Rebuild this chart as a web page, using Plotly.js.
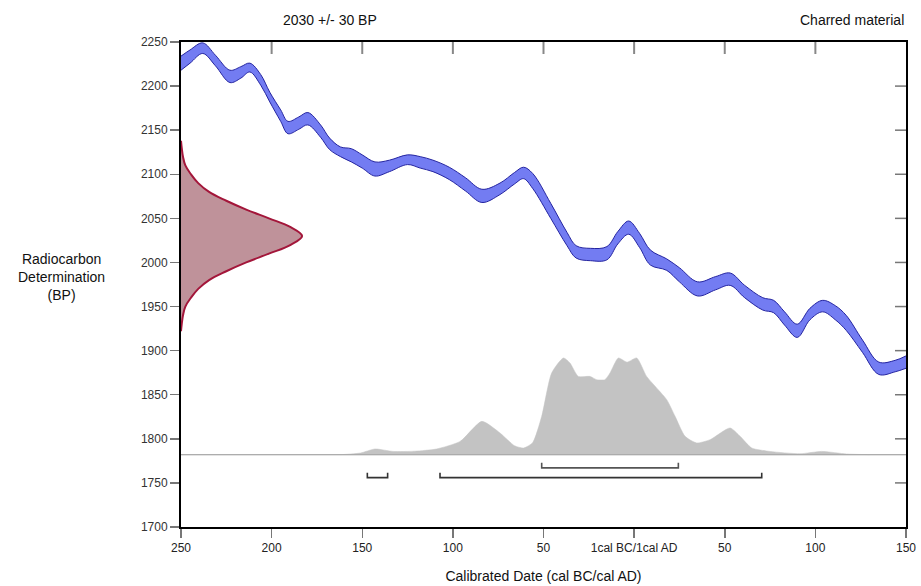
<!DOCTYPE html>
<html>
<head>
<meta charset="utf-8">
<script src="https://cdn.plot.ly/plotly-3.0.1.min.js"></script>
<style>html,body{margin:0;padding:0;background:#fff;}#chart{width:921px;height:586px;}</style>
</head>
<body>
<div id="chart"></div>
<script>
// Calibration curve (x: negative = cal BC, positive = cal AD)
const curveYears = [-250,-245,-238,-231,-223,-217,-212,-206,-201,-195,-191,-185,-180,-173,-168,-162,-156,-150,-143,-135,-125,-118,-111,-102,-93,-84,-74,-66,-61,-56,-46,-37,-32,-24,-15,-9,-3,3,9,18,25,35,45,53,61,71,77,83,90,97,104,111,117,126,135,144,150];
const curveUpper = [2234,2241,2249,2235,2218,2222,2226,2213,2193,2173,2160,2165,2170,2156,2141,2131,2129,2122,2114,2116,2122,2120,2116,2108,2096,2083,2090,2102,2108,2101,2067,2034,2019,2016,2018,2035,2047,2033,2014,2004,1994,1978,1984,1988,1974,1960,1957,1944,1930,1948,1957,1951,1940,1912,1887,1889,1894];
const curveLower = [2218,2226,2237,2223,2204,2209,2216,2201,2182,2160,2146,2151,2156,2142,2128,2120,2114,2107,2098,2103,2111,2107,2103,2094,2081,2068,2077,2089,2095,2084,2050,2019,2005,2002,2003,2021,2032,2017,1997,1991,1978,1962,1969,1974,1960,1946,1943,1929,1915,1935,1944,1935,1923,1898,1873,1876,1880];

// Radiocarbon determination 2030 +/- 30 BP (density, in axis years)
const rcBP      = [2138,2130,2120,2110,2100,2090,2080,2070,2060,2050,2040,2030,2020,2010,2000,1990,1980,1970,1960,1950,1940,1930,1922];
const rcDensity = [0,0.4,1.1,2.4,5.5,9.5,15.5,25,36,48.5,60.5,66.8,60.5,48.5,36,25,15.5,9.5,5.5,2.4,1.1,0.4,0];

// Calibrated probability distribution (height above baseline)
const probYears  = [-162,-151,-143,-133,-121,-109,-96,-84,-74,-66,-61,-56,-51,-45.5,-39,-35.4,-30.8,-24.3,-20.7,-16.1,-13.3,-8.7,-3.9,1.4,6.9,13.3,18,22.6,28.1,34.5,41.9,52.9,58.5,64.9,75,91.5,103.5,117.3,130];
const probHeight = [0,1.9,6.5,3.7,4,6.5,15.1,37.8,24.6,10.2,7.6,13.6,43.5,92.7,109.7,104,88.8,88.8,85.1,85.1,92.7,109.7,104.9,109.7,88.8,73.7,62.4,43.5,20.8,13.3,17,30.3,20.8,7.6,3.7,1.1,3.7,0.8,0];
const probBase = 1782;

// Calibrated ranges
const range68 = [[-51, 24.4]];
const range95 = [[-147.2, -136], [-107.1, 70.4]];

const xTickVals = [-250,-200,-150,-100,-50,0,50,100,150];
const xTickText = ['250','200','150','100','50','1cal BC/1cal AD','50','100','150'];
const yTickVals = [1700,1750,1800,1850,1900,1950,2000,2050,2100,2150,2200,2250];

const traces = [];
// Gaussian
traces.push({
  x: rcDensity.map(d => -250 + d), y: rcBP,
  mode: 'lines', fill: 'toself', fillcolor: 'rgba(170,110,120,0.75)',
  line: {color: '#a3163a', width: 2, shape: 'spline', smoothing: 1.1},
  hoverinfo: 'skip', showlegend: false
});
// Calibration band
traces.push({
  x: curveYears, y: curveUpper, mode: 'lines',
  line: {color: '#2424a0', width: 1, shape: 'spline', smoothing: 1},
  hoverinfo: 'skip', showlegend: false
});
traces.push({
  x: curveYears, y: curveLower, mode: 'lines', fill: 'tonexty', fillcolor: '#737cf2',
  line: {color: '#2424a0', width: 1, shape: 'spline', smoothing: 1},
  hoverinfo: 'skip', showlegend: false
});
// Probability baseline + distribution
traces.push({
  x: [-250, 150], y: [probBase, probBase], mode: 'lines',
  line: {color: '#b4b4b4', width: 1}, hoverinfo: 'skip', showlegend: false
});
traces.push({
  x: probYears, y: probHeight.map(h => probBase + h), mode: 'lines', fill: 'tonexty',
  fillcolor: '#c3c3c3', line: {color: '#c3c3c3', width: 0.5, shape: 'spline', smoothing: 0.6},
  hoverinfo: 'skip', showlegend: false
});
traces.push({
  x: [-250, 150], y: [probBase, probBase], mode: 'lines',
  line: {color: '#a8a8a8', width: 1}, hoverinfo: 'skip', showlegend: false
});
// Range brackets
function bracket(r, yb, yt, color) {
  return {x: [r[0], r[0], r[1], r[1]], y: [yt, yb, yb, yt], mode: 'lines',
    line: {color: color, width: 1.6}, hoverinfo: 'skip', showlegend: false};
}
range68.forEach(r => traces.push(bracket(r, 1767, 1773, '#555')));
range95.forEach(r => traces.push(bracket(r, 1756, 1761.5, '#333')));

// Inside ticks on top and right edges
const plotW = 921 - 181 - 15, plotH = 586 - 42 - 59;
const shapes = [];
xTickVals.slice(1, -1).forEach(v => shapes.push({type: 'line', xref: 'x', yref: 'paper', layer: 'above',
  x0: v, x1: v, y0: 1, y1: 1 - 12 / plotH, line: {color: '#888', width: 2}}));
yTickVals.slice(1, -1).forEach(v => shapes.push({type: 'line', xref: 'paper', yref: 'y', layer: 'above',
  x0: 1, x1: 1 - 11 / plotW, y0: v, y1: v, line: {color: '#777', width: 1.5}}));

const layout = {
  width: 921, height: 586,
  margin: {l: 181, r: 15, t: 42, b: 59},
  paper_bgcolor: '#fff', plot_bgcolor: '#fff',
  showlegend: false,
  font: {family: 'Arial, "Liberation Sans", sans-serif', size: 12, color: '#222'},
  shapes: shapes,
  xaxis: {
    range: [-250, 150], tickvals: xTickVals, ticktext: xTickText,
    ticks: 'outside', ticklen: 9, tickcolor: '#777', tickwidth: 1.5,
    showline: true, linecolor: '#000', linewidth: 2, mirror: true,
    showgrid: false, zeroline: false, tickfont: {size: 12, color: '#222'},
    title: {text: 'Calibrated Date (cal BC/cal AD)', font: {size: 14, color: '#111'}, standoff: 17}
  },
  yaxis: {
    range: [1700, 2250], tickvals: yTickVals,
    ticks: 'outside', ticklen: 9, tickcolor: '#777', tickwidth: 1.5,
    showline: true, linecolor: '#000', linewidth: 2, mirror: true,
    showgrid: false, zeroline: false, tickfont: {size: 12, color: '#333'}
  },
  annotations: [
    {text: '2030 +/- 30 BP', xref: 'paper', yref: 'paper', x: 0.205, y: 1, yshift: 22,
     xanchor: 'center', yanchor: 'middle', showarrow: false, font: {size: 14, color: '#111'}},
    {text: 'Charred material', xref: 'paper', yref: 'paper', x: 1, y: 1, yshift: 22,
     xanchor: 'right', yanchor: 'middle', showarrow: false, font: {size: 14, color: '#111'}},
    {text: 'Radiocarbon<br>Determination<br>(BP)', xref: 'paper', yref: 'paper', x: 0, xshift: -120,
     y: 0.515, xanchor: 'center', yanchor: 'middle', showarrow: false, align: 'center',
     font: {size: 14, color: '#111'}}
  ]
};
Plotly.newPlot('chart', traces, layout, {displayModeBar: false, staticPlot: true});
</script>
</body>
</html>
